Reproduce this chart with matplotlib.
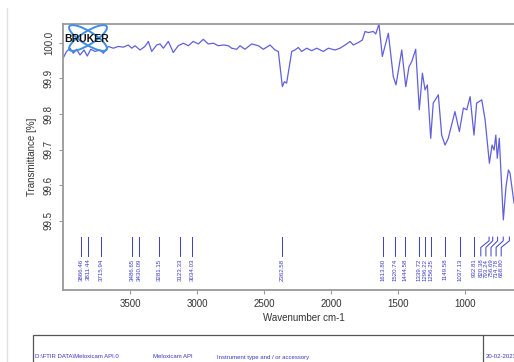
import matplotlib
matplotlib.use("Agg")
import matplotlib.pyplot as plt
from matplotlib.patches import Ellipse, Rectangle
from matplotlib.lines import Line2D

plt.rcParams['font.family'] = ['Liberation Sans', 'DejaVu Sans']

# spectrum (cm-1, %T)
wavenumber = [3998, 3973, 3948, 3923, 3898, 3873, 3843, 3819, 3793, 3761, 3724, 3699,
              3662, 3625, 3587, 3550, 3513, 3487, 3463, 3425, 3388, 3363, 3338, 3301,
              3276, 3251, 3214, 3177, 3140, 3102, 3065, 3028, 2990, 2953, 2916, 2878,
              2841, 2804, 2766, 2741, 2704, 2679, 2642, 2592, 2542, 2505, 2455, 2418,
              2393, 2363, 2348, 2331, 2293, 2269, 2244, 2219, 2181, 2144, 2107, 2057,
              2020, 1970, 1933, 1895, 1858, 1833, 1796, 1766, 1746, 1722, 1684, 1666,
              1642, 1617, 1572, 1535, 1515, 1472, 1442, 1418, 1398, 1368, 1341, 1318,
              1298, 1281, 1256, 1237, 1199, 1174, 1149, 1125, 1075, 1042, 1012, 987,
              962, 933, 913, 875, 850, 818, 798, 783, 770, 759, 744, 714, 694, 676,
              664, 634]
transmittance = [99.958, 99.976, 99.985, 99.971, 99.982, 99.966, 99.980, 99.963, 99.982,
                 99.976, 99.980, 99.971, 99.990, 99.985, 99.990, 99.988, 99.994, 99.985,
                 99.992, 99.980, 99.990, 100.004, 99.976, 99.994, 99.997, 99.985, 100.004,
                 99.973, 99.992, 99.999, 99.992, 100.004, 99.997, 100.010, 99.997, 99.999,
                 99.992, 99.994, 99.992, 99.985, 99.982, 99.992, 99.982, 99.997, 99.992,
                 99.982, 99.994, 99.980, 99.976, 99.877, 99.891, 99.887, 99.976, 99.980,
                 99.987, 99.976, 99.985, 99.978, 99.985, 99.976, 99.985, 99.980, 99.985,
                 99.994, 100.004, 99.994, 100.001, 100.008, 100.032, 100.029, 100.032,
                 100.025, 100.053, 99.962, 100.027, 99.905, 99.882, 99.980, 99.877, 99.933,
                 99.947, 99.982, 99.812, 99.915, 99.868, 99.882, 99.732, 99.831, 99.854,
                 99.741, 99.713, 99.732, 99.807, 99.751, 99.817, 99.812, 99.849, 99.741,
                 99.831, 99.840, 99.784, 99.662, 99.713, 99.699, 99.741, 99.676, 99.732,
                 99.503, 99.596, 99.643, 99.634, 99.55]

peaks = [3866.46, 3811.44, 3715.94, 3486.65, 3430.09, 3281.15, 3123.33, 3034.03,
         2362.58, 1613.80, 1520.74, 1444.58, 1339.72, 1296.22, 1256.25, 1149.58,
         1037.13, 932.81, 820.38, 793.24, 756.69, 714.78, 668.80]

xticks = [3500, 3000, 2500, 2000, 1500, 1000]
yticks = [99.5, 99.6, 99.7, 99.8, 99.9, 100.0]

blue = '#6060dc'
label_blue = '#3c3cc8'
frame = '#9a9a9a'

W, H = 514, 362
fig = plt.figure(figsize=(W / 100, H / 100), dpi=100)

# axes run off the right edge of the picture (cropped screenshot)
ax = fig.add_axes([63 / W, 72 / H, 482.4 / W, 266 / H])
ax.plot(wavenumber, transmittance, color=blue, lw=0.9)
ax.set_xlim(4000, 400)
ax.set_ylim(99.306, 100.053)
ax.set_xticks(xticks)
ax.set_yticks(yticks)
ax.set_yticklabels([f"{v:.1f}" for v in yticks], rotation=90, va='center')
ax.tick_params(labelsize=7, colors='#333333', length=3, width=0.8)
ax.tick_params(axis='both', color=frame)
for s in ax.spines.values():
    s.set_color(frame)
    s.set_linewidth(1.3)
ax.set_xlabel("Wavenumber cm-1", fontsize=7, color='#333333', labelpad=3)
ax.set_ylabel("Transmittance [%]", fontsize=7, color='#333333', labelpad=5)

# peak pick marks with leaders, labels pushed apart where crowded
gap = 38
label_floor = 730
pos = []
prev = label_floor - gap
for p in sorted(peaks):
    lp = max(p, prev + gap)
    pos.append(lp)
    prev = lp
label_pos = dict(zip(sorted(peaks), pos))
tr = ax.get_xaxis_transform()
for p in peaks:
    lp = label_pos[p]
    ax.add_line(Line2D([p, p, lp, lp], [0.199, 0.185, 0.160, 0.128],
                       transform=tr, color=label_blue, lw=0.7, clip_on=False))
    ax.text(lp, 0.118, f"{p:.2f}", transform=tr, rotation=90, ha='center', va='top',
            fontsize=4.4, color=label_blue)

# Bruker logo
for ang in (32, -32):
    fig.patches.append(Ellipse((88, H - 38), 44, 13, angle=ang, transform=None,
                               fill=False, ec='#3d8fe0', lw=1.4))
fig.text(64 / W, 1 - 39 / H, "BRUKER", fontsize=7.5, fontweight='bold',
         color='#111111', va='center', ha='left')

# page edge and the report box below the plot
fig.add_artist(Line2D([7 / W, 7 / W], [0, 1 - 8 / H], color='#e2e2e2', lw=1))
fig.patches.append(Rectangle((33, -5), 500, H - 335 + 5, transform=None,
                             fill=False, ec='#555555', lw=0.9))
fig.add_artist(Line2D([483 / W, 483 / W], [0, 1 - 335 / H], color='#555555', lw=0.9))
for x, s in [(35, "D:\\FTIR DATA\\Meloxicam API.0"), (153, "Meloxicam API"),
             (217, "Instrument type and / or accessory"), (486, "20-02-2023")]:
    fig.text(x / W, 1 - 357 / H, s, fontsize=4.3, color='#3838c0', va='center', ha='left')

fig.savefig("out.png", dpi=100)
